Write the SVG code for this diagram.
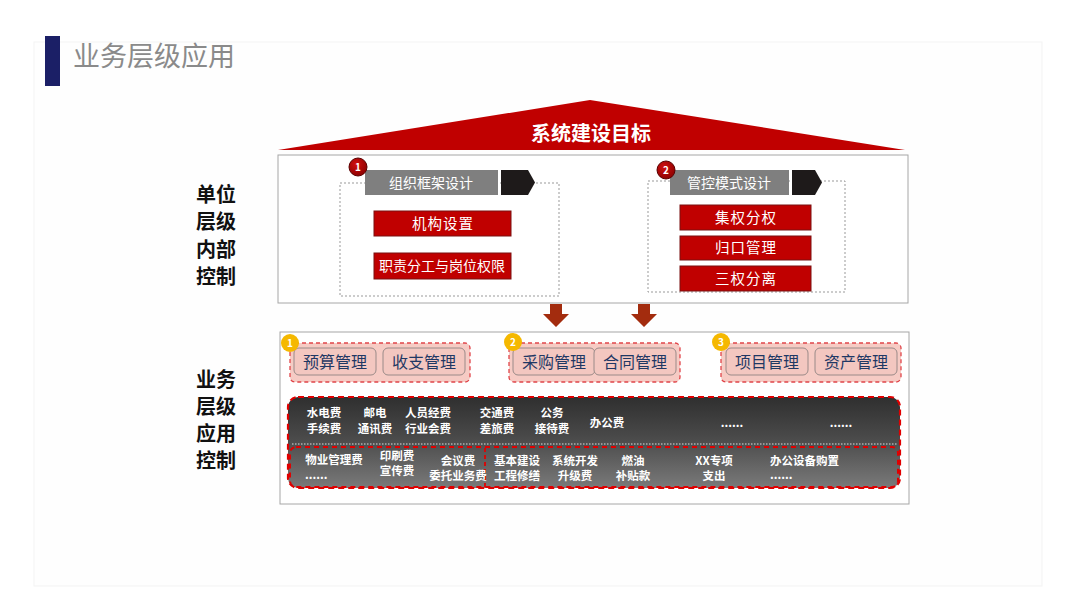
<svg xmlns="http://www.w3.org/2000/svg" width="1080" height="608" viewBox="0 0 1080 608">
<defs>
<style>
text{font-family:"Noto Sans CJK SC","Noto Sans",sans-serif}
.side{font-size:20px;font-weight:bold;fill:#111}
.hdr{fill:#7f7f7f}
.hdrt{font-size:14px;fill:#fff;text-anchor:middle}
.red{fill:#c00000;stroke:#7a1010;stroke-width:1}
.redt{font-size:14.5px;fill:#fff;text-anchor:middle;letter-spacing:1px}
.redt2{font-size:14px;fill:#fff;text-anchor:middle}
.dash{fill:none;stroke:#999;stroke-width:1;stroke-dasharray:2 2}
.grp{fill:#f6cbc4;stroke:#e0454a;stroke-width:1.3;stroke-dasharray:4 3}
.pill{fill:#f3c7c0;stroke:#9a8a88;stroke-width:1}
.pillt{font-size:16px;fill:#1f3864;text-anchor:middle}
.badgeY{fill:#f5b800}
.bt{font-size:10px;font-weight:bold;fill:#fff;text-anchor:middle}
.cost{font-size:11.5px;font-weight:bold;fill:#fff;text-anchor:middle}
.costl{font-size:11.5px;font-weight:bold;fill:#fff;text-anchor:start}
.darr{fill:#a32c0e}
</style>
<linearGradient id="bar" x1="0" y1="0" x2="0" y2="1">
<stop offset="0" stop-color="#2f2f2f"/>
<stop offset="0.45" stop-color="#4a4a4a"/>
<stop offset="1" stop-color="#7a7a7a"/>
</linearGradient>
<radialGradient id="rb" cx="0.4" cy="0.35" r="0.7">
<stop offset="0" stop-color="#d21010"/>
<stop offset="1" stop-color="#8a0000"/>
</radialGradient>
</defs>
<rect width="1080" height="608" fill="#ffffff"/>
<rect x="34" y="42" width="1008" height="544" fill="#fefefe" stroke="#f3f3f3"/>
<g id="title">
<rect x="45" y="36" width="15" height="50" fill="#1b1f66"/>
<text x="73" y="66" font-size="27" fill="#8a8a8a">业务层级应用</text>
</g>
<g id="roof">
<polygon points="278,150 590,100 905,150" fill="#c00000"/>
<text x="591" y="141" font-size="20" font-weight="bold" fill="#fff" text-anchor="middle">系统建设目标</text>
</g>
<g id="side-labels">
<text class="side" x="196" y="202">单位</text>
<text class="side" x="196" y="229">层级</text>
<text class="side" x="196" y="257">内部</text>
<text class="side" x="196" y="284">控制</text>
<text class="side" x="196" y="387">业务</text>
<text class="side" x="196" y="414">层级</text>
<text class="side" x="196" y="441">应用</text>
<text class="side" x="196" y="468">控制</text>
</g>
<g id="upper-box">
<rect x="278" y="155" width="630" height="148" fill="#fff" stroke="#a6a6a6"/>
</g>
<g id="org-design">
<rect class="dash" x="340" y="183" width="219" height="113"/>
<rect class="hdr" x="365" y="170" width="133" height="25"/>
<text class="hdrt" x="431" y="188">组织框架设计</text>
<polygon points="501,170 528,170 535,182.5 528,195 501,195" fill="#1e1a1a"/>
<circle cx="358" cy="167" r="9" fill="url(#rb)" stroke="#5a0000"/>
<text class="bt" x="358" y="171">1</text>
<rect class="red" x="374" y="211" width="137" height="25"/>
<text class="redt" x="443" y="229">机构设置</text>
<rect class="red" x="374" y="253" width="137" height="26"/>
<text class="redt2" x="442" y="271">职责分工与岗位权限</text>
</g>
<g id="control-design">
<rect class="dash" x="648" y="181" width="197" height="111"/>
<rect class="hdr" x="670" y="170" width="119" height="25"/>
<text class="hdrt" x="729" y="188">管控模式设计</text>
<polygon points="792,170 815,170 822,182.5 815,195 792,195" fill="#1e1a1a"/>
<circle cx="666" cy="170" r="9" fill="url(#rb)" stroke="#5a0000"/>
<text class="bt" x="666" y="174">2</text>
<rect class="red" x="680" y="205" width="131" height="25"/>
<text class="redt" x="746" y="223">集权分权</text>
<rect class="red" x="680" y="236" width="131" height="24"/>
<text class="redt" x="746" y="253">归口管理</text>
<rect class="red" x="680" y="266" width="131" height="25"/>
<text class="redt" x="746" y="284">三权分离</text>
</g>
<g id="connectors">
<polygon class="darr" points="550,304 562,304 562,314 569,314 556,327 543,314 550,314"/>
<polygon class="darr" points="638,304 650,304 650,314 657,314 644,327 631,314 638,314"/>
<polygon class="darr" points="480,355 490,355 490,349 501,363 490,377 490,371 480,371"/>
<polygon class="darr" points="693,355 703,355 703,349 714,363 703,377 703,371 693,371"/>
</g>
<g id="lower-box">
<rect x="280" y="332" width="629" height="172" fill="#fff" stroke="#a6a6a6"/>
</g>
<g id="group1">
<rect class="grp" x="290" y="343" width="180" height="39" rx="5"/>
<rect class="pill" x="294" y="348" width="82" height="27" rx="5"/>
<text class="pillt" x="335" y="368">预算管理</text>
<rect class="pill" x="383" y="348" width="82" height="27" rx="5"/>
<text class="pillt" x="424" y="368">收支管理</text>
<circle class="badgeY" cx="290" cy="343" r="9"/>
<text class="bt" x="290" y="347">1</text>
</g>
<g id="group2">
<rect class="grp" x="509" y="343" width="171" height="39" rx="5"/>
<rect class="pill" x="513" y="348" width="82" height="27" rx="5"/>
<text class="pillt" x="554" y="368">采购管理</text>
<rect class="pill" x="594" y="348" width="82" height="27" rx="5"/>
<text class="pillt" x="635" y="368">合同管理</text>
<circle class="badgeY" cx="513" cy="342" r="9"/>
<text class="bt" x="513" y="346">2</text>
</g>
<g id="group3">
<rect class="grp" x="721" y="343" width="180" height="39" rx="5"/>
<rect class="pill" x="726" y="348" width="82" height="27" rx="5"/>
<text class="pillt" x="767" y="368">项目管理</text>
<rect class="pill" x="815" y="348" width="82" height="27" rx="5"/>
<text class="pillt" x="856" y="368">资产管理</text>
<circle class="badgeY" cx="721" cy="342" r="9"/>
<text class="bt" x="721" y="346">3</text>
</g>
<g id="cost-bar">
<rect x="288" y="397" width="612" height="91" rx="10" fill="url(#bar)"/>
<line x1="292" y1="444" x2="898" y2="444" stroke="#ddd" stroke-width="1" stroke-dasharray="1.5 1.5"/>
<rect x="288" y="397" width="612" height="91" rx="10" fill="none" stroke="#e00000" stroke-width="2.2" stroke-dasharray="6 4"/>
<rect x="290" y="447" width="608" height="40" rx="6" fill="none" stroke="#e00000" stroke-width="2" stroke-dasharray="5 4"/>
<line x1="485" y1="448" x2="485" y2="487" stroke="#e00000" stroke-width="1.8" stroke-dasharray="4 3"/>
<text class="cost" x="324" y="417">水电费</text><text class="cost" x="324" y="433">手续费</text>
<text class="cost" x="375" y="417">邮电</text><text class="cost" x="375" y="433">通讯费</text>
<text class="cost" x="428" y="417">人员经费</text><text class="cost" x="428" y="433">行业会费</text>
<text class="cost" x="497" y="417">交通费</text><text class="cost" x="497" y="433">差旅费</text>
<text class="cost" x="552" y="417">公务</text><text class="cost" x="552" y="433">接待费</text>
<text class="cost" x="607" y="427">办公费</text>
<text class="cost" x="732" y="427">......</text>
<text class="cost" x="841" y="427">......</text>
<text class="cost" x="334" y="464">物业管理费</text><text class="costl" x="305" y="479">......</text>
<text class="cost" x="397" y="460">印刷费</text><text class="cost" x="397" y="475">宣传费</text>
<text class="cost" x="458" y="465">会议费</text><text class="cost" x="458" y="480">委托业务费</text>
<text class="cost" x="517" y="465">基本建设</text><text class="cost" x="517" y="480">工程修缮</text>
<text class="cost" x="575" y="465">系统开发</text><text class="cost" x="575" y="480">升级费</text>
<text class="cost" x="633" y="465">燃油</text><text class="cost" x="633" y="480">补贴款</text>
<text class="cost" x="714" y="465">XX专项</text><text class="cost" x="714" y="480">支出</text>
<text class="costl" x="770" y="465">办公设备购置</text><text class="costl" x="770" y="479">......</text>
</g>
</svg>
